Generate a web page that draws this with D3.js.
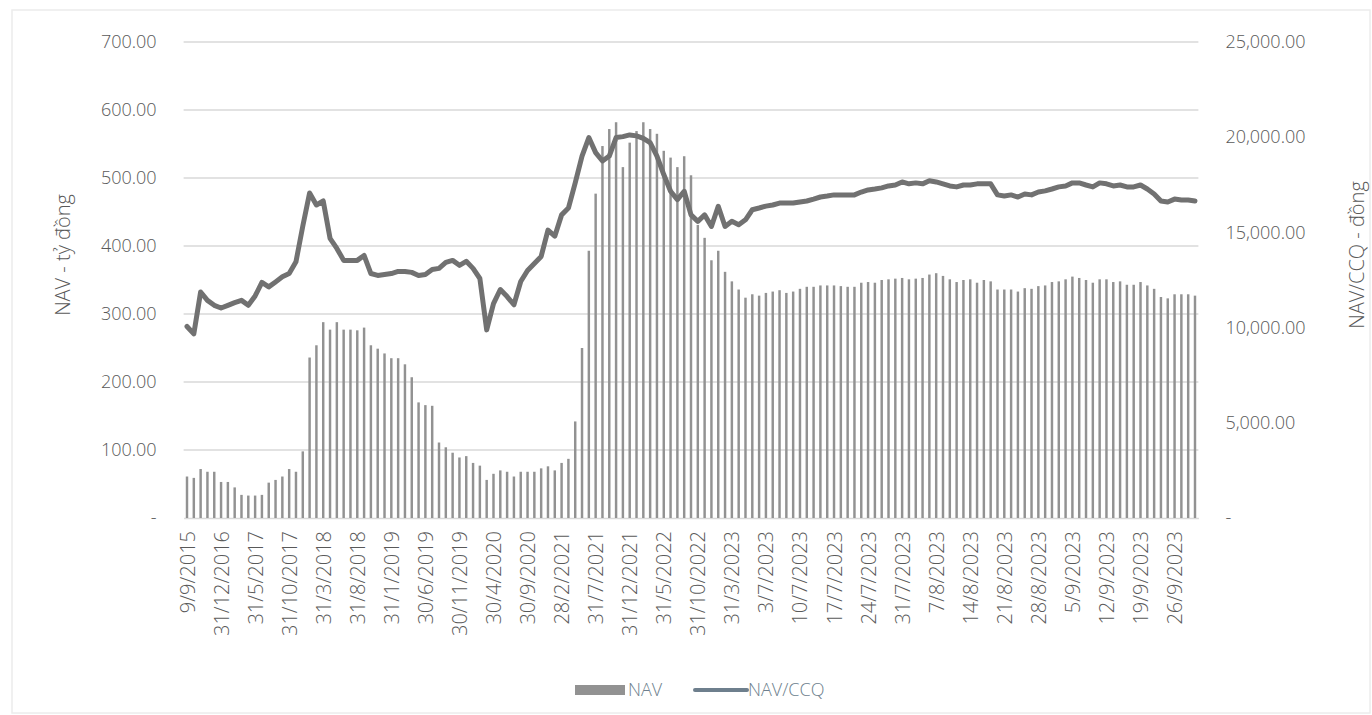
<!DOCTYPE html>
<html>
<head>
<meta charset="utf-8">
<script src="https://cdn.jsdelivr.net/npm/d3@7/dist/d3.min.js"></script>
<style>
  body { margin: 0; background: #fff; }
  text { font-family: "Open Sans", "Noto Sans", sans-serif; }
</style>
</head>
<body>
<script>
const svg_width = 1372;
const svg_height = 715;

// category labels (quarterly, then month-end, then daily from 3/7/2023)
const dates = [
    '9/9/2015', '31/12/2015', '31/3/2016', '30/6/2016', '30/9/2016',
    '31/12/2016', '31/1/2017', '28/2/2017', '31/3/2017', '30/4/2017',
    '31/5/2017', '30/6/2017', '31/7/2017', '31/8/2017', '30/9/2017',
    '31/10/2017', '30/11/2017', '31/12/2017', '31/1/2018', '28/2/2018',
    '31/3/2018', '30/4/2018', '31/5/2018', '30/6/2018', '31/7/2018',
    '31/8/2018', '30/9/2018', '31/10/2018', '30/11/2018', '31/12/2018',
    '31/1/2019', '28/2/2019', '31/3/2019', '30/4/2019', '31/5/2019',
    '30/6/2019', '31/7/2019', '31/8/2019', '30/9/2019', '31/10/2019',
    '30/11/2019', '31/12/2019', '31/1/2020', '29/2/2020', '31/3/2020',
    '30/4/2020', '31/5/2020', '30/6/2020', '31/7/2020', '31/8/2020',
    '30/9/2020', '31/10/2020', '30/11/2020', '31/12/2020', '31/1/2021',
    '28/2/2021', '31/3/2021', '30/4/2021', '31/5/2021', '30/6/2021',
    '31/7/2021', '31/8/2021', '30/9/2021', '31/10/2021', '30/11/2021',
    '31/12/2021', '31/1/2022', '28/2/2022', '31/3/2022', '30/4/2022',
    '31/5/2022', '30/6/2022', '31/7/2022', '31/8/2022', '30/9/2022',
    '31/10/2022', '30/11/2022', '31/12/2022', '31/1/2023', '28/2/2023',
    '31/3/2023', '30/4/2023', '31/5/2023', '29/6/2023', '30/6/2023',
    '3/7/2023', '4/7/2023', '5/7/2023', '6/7/2023', '7/7/2023',
    '10/7/2023', '11/7/2023', '12/7/2023', '13/7/2023', '14/7/2023',
    '17/7/2023', '18/7/2023', '19/7/2023', '20/7/2023', '21/7/2023',
    '24/7/2023', '25/7/2023', '26/7/2023', '27/7/2023', '28/7/2023',
    '31/7/2023', '1/8/2023', '2/8/2023', '3/8/2023', '4/8/2023',
    '7/8/2023', '8/8/2023', '9/8/2023', '10/8/2023', '11/8/2023',
    '14/8/2023', '15/8/2023', '16/8/2023', '17/8/2023', '18/8/2023',
    '21/8/2023', '22/8/2023', '23/8/2023', '24/8/2023', '25/8/2023',
    '28/8/2023', '29/8/2023', '30/8/2023', '31/8/2023', '1/9/2023',
    '5/9/2023', '6/9/2023', '7/9/2023', '8/9/2023', '11/9/2023',
    '12/9/2023', '13/9/2023', '14/9/2023', '15/9/2023', '18/9/2023',
    '19/9/2023', '20/9/2023', '21/9/2023', '22/9/2023', '25/9/2023',
    '26/9/2023', '27/9/2023', '28/9/2023', '29/9/2023'
];

// NAV - tỷ đồng (bars, left axis)
const nav = [
    61, 59, 72, 68, 68, 53, 53, 45, 34, 33,
    33, 34, 52, 56, 61, 72, 68, 98, 236, 254,
    288, 277, 288, 277, 277, 276, 280, 254, 249, 242,
    235, 235, 226, 207, 170, 166, 165, 111, 104, 96,
    89, 91, 81, 77, 56, 65, 70, 68, 61, 68,
    68, 68, 73, 76, 70, 81, 87, 142, 250, 393,
    477, 547, 572, 582, 516, 552, 569, 582, 572, 565,
    540, 530, 516, 532, 504, 431, 412, 379, 393, 362,
    348, 336, 324, 329, 327, 331, 333, 335, 331, 333,
    337, 340, 340, 342, 342, 342, 341, 340, 340, 346,
    347, 346, 350, 351, 352, 353, 351, 352, 353, 358,
    360, 356, 351, 347, 350, 351, 346, 350, 348, 336,
    336, 336, 333, 338, 337, 341, 342, 347, 348, 351,
    355, 353, 350, 346, 351, 351, 347, 348, 343, 343,
    347, 342, 337, 325, 323, 329, 329, 329, 327
];

// NAV/CCQ - đồng (line, right axis)
const navPerUnit = [
    10060, 9670, 11870, 11430, 11170, 11030, 11170, 11310, 11430, 11170,
    11660, 12370, 12140, 12400, 12670, 12840, 13460, 15330, 17070, 16440,
    16650, 14690, 14160, 13530, 13530, 13530, 13790, 12840, 12740, 12790,
    12840, 12950, 12950, 12900, 12740, 12790, 13050, 13110, 13420, 13530,
    13270, 13480, 13110, 12580, 9880, 11260, 12000, 11630, 11200, 12420,
    13000, 13370, 13740, 15120, 14800, 15920, 16280, 17600, 19010, 19980,
    19190, 18750, 19010, 19980, 20030, 20120, 20070, 19940, 19710, 19010,
    18040, 17160, 16720, 17160, 15920, 15580, 15920, 15310, 16370, 15310,
    15580, 15400, 15660, 16190, 16280, 16380, 16440, 16540, 16540, 16540,
    16600, 16650, 16750, 16860, 16910, 16970, 16970, 16970, 16970, 17120,
    17230, 17280, 17340, 17440, 17490, 17650, 17550, 17600, 17550, 17710,
    17650, 17550, 17440, 17390, 17490, 17490, 17550, 17550, 17550, 16970,
    16910, 16970, 16860, 17020, 16970, 17120, 17180, 17280, 17390, 17440,
    17600, 17600, 17490, 17390, 17600, 17550, 17440, 17490, 17390, 17390,
    17490, 17280, 17020, 16650, 16600, 16750, 16700, 16700, 16650
];

const leftTicks = [0, 100, 200, 300, 400, 500, 600, 700];
const rightTicks = [0, 5000, 10000, 15000, 20000, 25000];
const legendItems = ['NAV', 'NAV/CCQ'];

const plot = {left: 183.6, right: 1198.4, top: 42, bottom: 518};
const bar_color = '#929292';
const line_color = '#717171';
const text_color = '#595959';
const legend_color = '#6e7f8d';

const svg = d3.select('body')
    .append('svg')
    .attr('width', svg_width)
    .attr('height', svg_height);

svg.append('rect')
    .attr('width', svg_width)
    .attr('height', svg_height)
    .attr('fill', 'white');

// faint page edge from the scan
svg.append('rect')
    .attr('x', 12).attr('y', 10)
    .attr('width', svg_width - 14).attr('height', svg_height - 12)
    .attr('fill', 'none')
    .attr('stroke', '#ececec')
    .attr('stroke-width', 1.5);

const x = d3.scalePoint()
    .domain(dates)
    .range([plot.left, plot.right])
    .padding(0.5);
const step = x.step();

const yLeft = d3.scaleLinear().domain([0, 700]).range([plot.bottom, plot.top]);
const yRight = d3.scaleLinear().domain([0, 25000]).range([plot.bottom, plot.top]);

// gridlines
svg.append('g')
    .selectAll('line')
    .data(leftTicks.slice(1))
    .enter()
    .append('line')
    .attr('x1', plot.left)
    .attr('x2', plot.right)
    .attr('y1', d => yLeft(d))
    .attr('y2', d => yLeft(d))
    .attr('stroke', '#d9d9d9')
    .attr('stroke-width', 1.5);

const fmt = d3.format(',.2f');
function styleText(sel, size) {
    sel.attr('font-size', size)
        .attr('font-family', '"Open Sans", sans-serif')
        .attr('font-weight', 300)
        .attr('fill', text_color);
}

// left axis
const leftAxis = svg.append('g')
    .attr('transform', `translate(${plot.left}, 0)`)
    .call(d3.axisLeft(yLeft).tickValues(leftTicks).tickSize(0).tickPadding(27)
        .tickFormat(d => d === 0 ? '-' : fmt(d)));
leftAxis.select('.domain').remove();
styleText(leftAxis.selectAll('text'), 18);

// right axis
const rightAxis = svg.append('g')
    .attr('transform', `translate(${plot.right}, 0)`)
    .call(d3.axisRight(yRight).tickValues(rightTicks).tickSize(0).tickPadding(27)
        .tickFormat(d => d === 0 ? '-' : fmt(d)));
rightAxis.select('.domain').remove();
styleText(rightAxis.selectAll('text'), 18);

// x axis, every fifth category labelled
const xAxis = svg.append('g')
    .attr('transform', `translate(0, ${plot.bottom})`)
    .call(d3.axisBottom(x).tickSize(0).tickPadding(0)
        .tickValues(dates.filter((d, i) => i % 5 === 0)));
xAxis.select('.domain')
    .attr('stroke', '#d9d9d9')
    .attr('stroke-width', 1.5);
styleText(xAxis.selectAll('text'), 20);
xAxis.selectAll('text')
    .attr('text-anchor', 'end')
    .attr('dy', '0.35em')
    .attr('transform', 'translate(0, 13) rotate(-90)');

// bars
const barW = step * 0.36;
svg.append('g')
    .selectAll('rect')
    .data(nav)
    .enter()
    .append('rect')
    .attr('x', (d, i) => x(dates[i]) - barW / 2)
    .attr('y', d => yLeft(d))
    .attr('width', barW)
    .attr('height', d => yLeft(0) - yLeft(d))
    .attr('fill', bar_color);

// line
const line = d3.line()
    .x((d, i) => x(dates[i]))
    .y(d => yRight(d));
svg.append('path')
    .datum(navPerUnit)
    .attr('d', line)
    .attr('fill', 'none')
    .attr('stroke', line_color)
    .attr('stroke-width', 5)
    .attr('stroke-linejoin', 'round')
    .attr('stroke-linecap', 'round');

// axis titles
styleText(svg.append('text')
    .attr('transform', 'translate(70, 255) rotate(-90)')
    .attr('text-anchor', 'middle')
    .text('NAV - tỷ đồng'), 20);
styleText(svg.append('text')
    .attr('transform', 'translate(1350, 255) rotate(-90)')
    .attr('text-anchor', 'middle')
    .attr('dy', '0.7em')
    .text('NAV/CCQ - đồng'), 20);

// legend
const legend = svg.append('g').attr('transform', 'translate(575, 690)');
legend.append('rect')
    .attr('x', 0).attr('y', -5)
    .attr('width', 50).attr('height', 10)
    .attr('fill', bar_color);
styleText(legend.append('text')
    .attr('x', 53).attr('dy', '0.35em')
    .text(legendItems[0]), 18);
legend.append('line')
    .attr('x1', 120).attr('x2', 172)
    .attr('stroke', legend_color)
    .attr('stroke-width', 4)
    .attr('stroke-linecap', 'round');
styleText(legend.append('text')
    .attr('x', 173).attr('dy', '0.35em')
    .text(legendItems[1]), 18);
legend.selectAll('text').attr('fill', legend_color);
</script>
</body>
</html>
